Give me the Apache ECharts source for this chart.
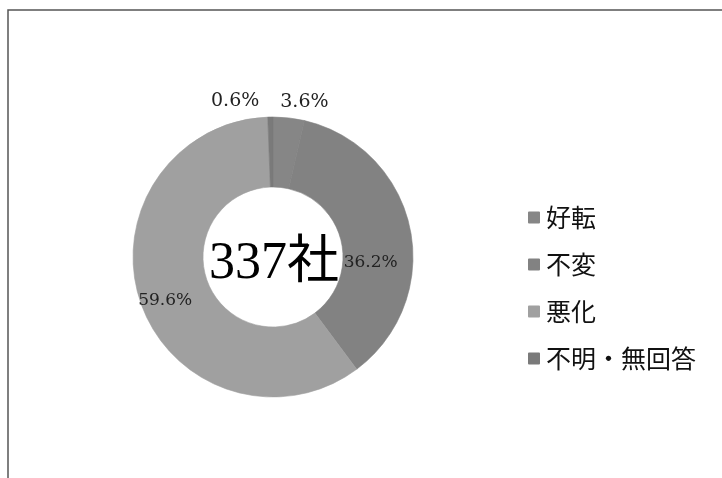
<!DOCTYPE html>
<html>
<head>
<meta charset="utf-8">
<script src="https://cdn.jsdelivr.net/npm/echarts@6/dist/echarts.min.js"></script>
<style>
  html, body { margin: 0; padding: 0; background: #fff; }
  #chart { width: 722px; height: 478px; }
</style>
</head>
<body>
<div id="chart"></div>
<script>
const categories = ['好転', '不変', '悪化', '不明・無回答']
const shares = [3.6, 36.2, 59.6, 0.6]
const colors = ['#868686', '#828282', '#a0a0a0', '#7a7a7a']
const totalText = '337社'
// which labels sit outside the ring, and small nudges to match the scan
const outsideLabel = [true, false, false, true]
const labelNudge = [[-14, -12], [-8, 28], [-6, 8], [-6, -12]]

const myChart = echarts.init(document.getElementById('chart'))

const option = {
  animation: false,
  legend: {
    orient: 'vertical',
    left: 523,
    top: 199,
    itemWidth: 10,
    itemHeight: 10,
    itemGap: 20,
    icon: 'rect',
    textStyle: {
      fontFamily: 'Noto Sans CJK JP',
      fontSize: 25,
      color: '#111',
      lineHeight: 27,
      padding: [0, 0, 0, 2]
    },
    data: categories
  },
  graphic: [
    {
      type: 'rect',
      shape: { x: 8, y: 10, width: 760, height: 520 },
      style: { fill: 'none', stroke: '#555', lineWidth: 1.5 },
      silent: true
    },
    {
      type: 'text',
      x: 274,
      y: 264,
      z: 100,
      style: {
        text: totalText,
        fontFamily: 'Liberation Serif, Noto Sans CJK JP',
        fontSize: 52,
        fill: '#000',
        align: 'center',
        verticalAlign: 'middle'
      }
    }
  ],
  series: [{
    type: 'pie',
    center: [273, 257],
    radius: [70, 140],
    startAngle: 90,
    clockwise: true,
    avoidLabelOverlap: false,
    labelLine: { show: false, length: 4, length2: 0 },
    label: {
      formatter: '{c}%',
      fontFamily: 'DejaVu Serif',
      fontSize: 19,
      color: '#222'
    },
    labelLayout: params => ({
      dx: labelNudge[params.dataIndex][0],
      dy: labelNudge[params.dataIndex][1]
    }),
    data: categories.map((name, i) => ({
      name: name,
      value: shares[i],
      itemStyle: { color: colors[i], borderColor: colors[i], borderWidth: 0.6 },
      label: {
        position: outsideLabel[i] ? 'outside' : 'inside',
        fontSize: outsideLabel[i] ? 19 : 17
      }
    }))
  }]
}

myChart.setOption(option)
</script>
</body>
</html>
